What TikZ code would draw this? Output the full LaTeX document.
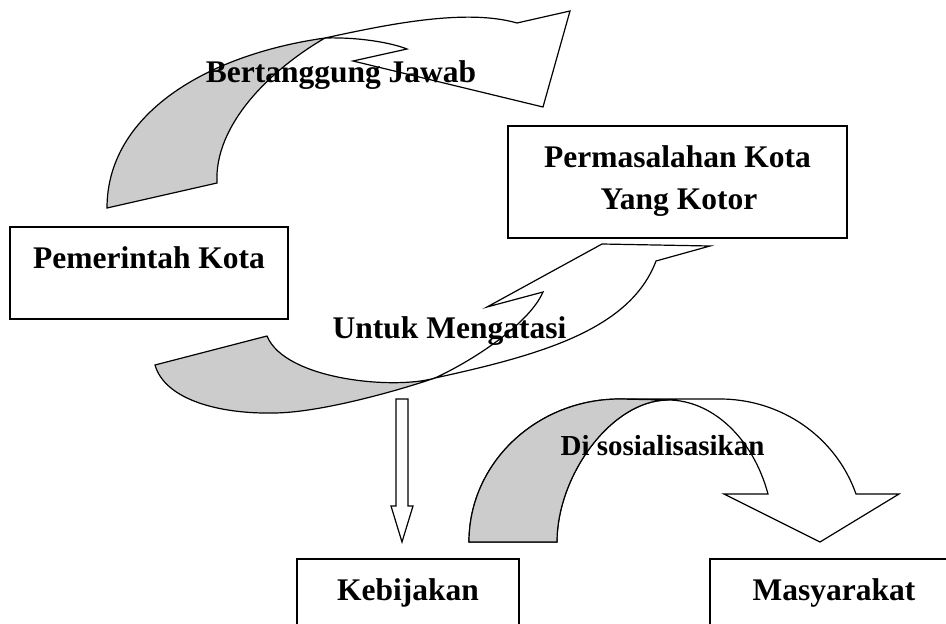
\documentclass[tikz,border=0pt]{standalone}
\usepackage{fontspec}
\setmainfont{Liberation Serif}
\definecolor{ribgray}{RGB}{204,204,204}
\begin{document}
\begin{tikzpicture}[x=1pt,y=-1pt,
  lbl/.style={font=\fontsize{31.5}{37}\selectfont\bfseries, inner sep=0pt, anchor=base},
  frame/.style={draw, line width=1.4pt, inner sep=0pt, fill=white},
  ribbon/.style={draw, line width=1.2pt, line join=miter},
]
\useasboundingbox (0,0) rectangle (946,624);

% ---------- top curved arrow (Bertanggung Jawab) ----------
\filldraw[ribbon, fill=ribgray] (107,208) .. controls (107,115) and (205,55) .. (325,38)
  .. controls (270,70) and (214,125) .. (217,183) -- cycle;
\filldraw[ribbon, fill=white] (325,38) .. controls (385,25) and (465,8) .. (517,23)
  -- (570,11) -- (543,107) -- (353,61) -- (407,49)
  .. controls (392,43) and (360,37) .. (325,38) -- cycle;

% ---------- middle curved arrow (Untuk Mengatasi) ----------
\filldraw[ribbon, fill=ribgray] (155,365) -- (267,336)
  .. controls (285,380) and (395,390) .. (435,378)
  .. controls (400,390) and (320,413) .. (273,413)
  .. controls (220,414) and (165,400) .. (155,365) -- cycle;
\filldraw[ribbon, fill=white] (435,378) .. controls (540,355) and (630,330) .. (656,261)
  -- (710,246) -- (602,244) -- (487,307) -- (543,292)
  .. controls (530,322) and (478,358) .. (435,378) -- cycle;

% ---------- straight down arrow ----------
\filldraw[ribbon, fill=white] (396,399) -- (408,399) -- (408,506) -- (413,506)
  -- (402,542) -- (391,506) -- (396,506) -- cycle;

% ---------- bottom curved arrow (Di sosialisasikan) ----------
\filldraw[ribbon, fill=white] (469,542) .. controls (469,463) and (536.6,399) .. (620,399)
  -- (720,399) .. controls (781.3,399) and (836,437) .. (856,494)
  -- (899,494) -- (820,542) -- (724,494) -- (768,494)
  .. controls (753,438) and (712,400) .. (668,400)
  .. controls (612,400) and (557,475) .. (557,542) -- cycle;
\filldraw[ribbon, fill=ribgray] (469,542) .. controls (469,463) and (536.6,399) .. (620,399)
  -- (668,400) .. controls (612,400) and (557,475) .. (557,542) -- cycle;

% ---------- boxes ----------
\node[frame, minimum width=278pt, minimum height=92pt] (pemBox) at (149,273) {};
\node[frame, minimum width=339pt, minimum height=112pt] (perBox) at (677.5,182) {};
\node[frame, minimum width=222pt, minimum height=121pt] (kebBox) at (408,619.5) {};
\node[frame, minimum width=280pt, minimum height=121pt] (masBox) at (850,619.5) {};

% ---------- texts ----------
\node[lbl] (tPem) at (149,268) {Pemerintah Kota};
\node[lbl] (tPer1) at (677.5,167) {Permasalahan Kota};
\node[lbl] (tPer2) at (679,209) {Yang Kotor};
\node[lbl] (tKeb) at (408,600) {Kebijakan};
\node[lbl] (tMas) at (834,600) {Masyarakat};
\node[lbl] (tBert) at (341,82) {Bertanggung Jawab};
\node[lbl] (tUntuk) at (449.5,338) {Untuk Mengatasi};
\node[lbl, font=\fontsize{29}{35}\selectfont\bfseries] (tDi) at (662.5,455) {Di sosialisasikan};
\end{tikzpicture}
\end{document}
